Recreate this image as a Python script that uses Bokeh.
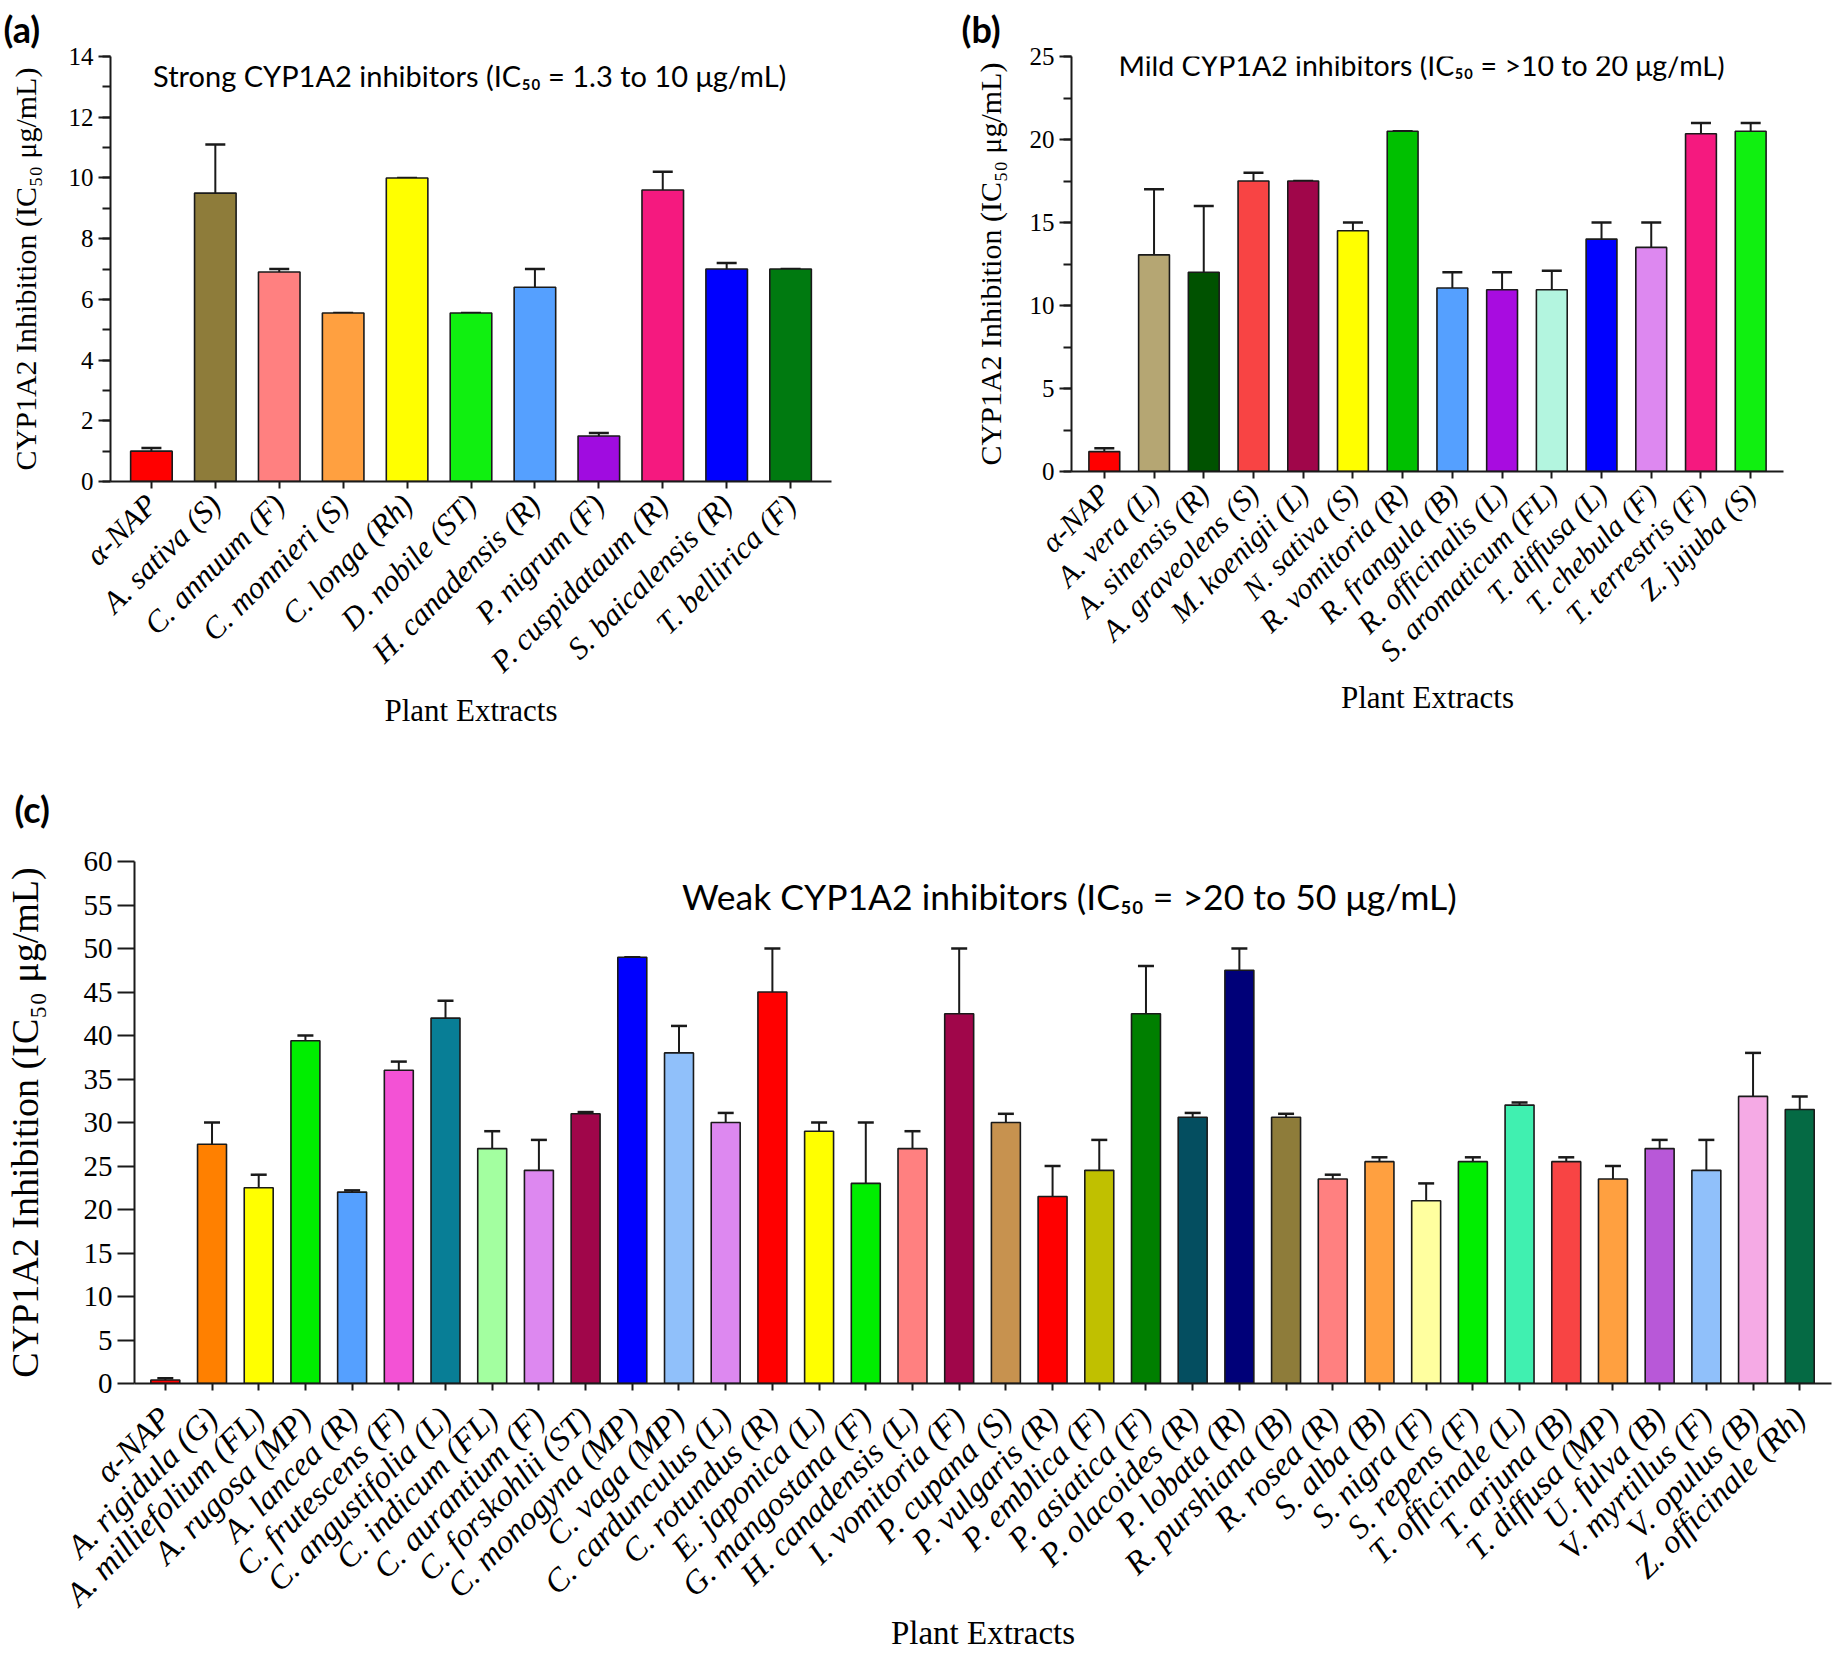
import math
from bokeh.plotting import figure
from bokeh.models import (ColumnDataSource, FixedTicker, SingleIntervalTicker,
                          Range1d, Label, Whisker, TeeHead)
from bokeh.layouts import column, row
from bokeh.embed import file_html
from bokeh.resources import INLINE

# ---------------- data ----------------
A_NAMES = ["α-NAP", "A. sativa (S)", "C. annuum (F)", "C. monnieri (S)", "C. longa (Rh)",
           "D. nobile (ST)", "H. canadensis (R)", "P. nigrum (F)", "P. cuspidataum (R)",
           "S. baicalensis (R)", "T. bellirica (F)"]
A_VALUES = [1.0, 9.5, 6.9, 5.55, 10.0, 5.55, 6.4, 1.5, 9.6, 7.0, 7.0]
A_ERRORS = [0.1, 1.6, 0.1, 0.0, 0.0, 0.0, 0.6, 0.1, 0.6, 0.2, 0.0]
A_COLORS = ["#FF0000", "#8E7C3A", "#FF8080", "#FFA040", "#FFFF00", "#10F010",
            "#55A0FF", "#A00CE0", "#F5197F", "#0000FF", "#007A10"]

B_NAMES = ["α-NAP", "A. vera (L)", "A. sinensis (R)", "A. graveolens (S)", "M. koenigii (L)",
           "N. sativa (S)", "R. vomitoria (R)", "R. frangula (B)", "R. officinalis (L)",
           "S. aromaticum (FL)", "T. diffusa (L)", "T. chebula (F)", "T. terrestris (F)",
           "Z. jujuba (S)"]
B_VALUES = [1.2, 13.05, 12.0, 17.5, 17.5, 14.5, 20.5, 11.05, 10.95, 10.95, 14.0, 13.5, 20.35, 20.5]
B_ERRORS = [0.2, 3.95, 4.0, 0.5, 0.0, 0.5, 0.0, 0.95, 1.05, 1.15, 1.0, 1.5, 0.65, 0.5]
B_COLORS = ["#FF0000", "#B5A673", "#005200", "#F84444", "#A0064A", "#FFFF00", "#00C000",
            "#55A0FF", "#A80CE0", "#B3F5DF", "#0000FF", "#DD88F0", "#F5197F", "#10F010"]

C_NAMES = ["α-NAP", "A. rigidula (G)", "A. milliefolium (FL)", "A. rugosa (MP)", "A. lancea (R)",
           "C. frutescens (F)", "C. angustifolia (L)", "C. indicum (FL)", "C. aurantium (F)",
           "C. forskohlii (ST)", "C. monogyna (MP)", "C. vaga (MP)", "C. cardunculus (L)",
           "C. rotundus (R)", "E. japonica (L)", "G. mangostana (F)", "H. canadensis (L)",
           "I. vomitoria (F)", "P. cupana (S)", "P. vulgaris (R)", "P. emblica (F)",
           "P. asiatica (F)", "P. olacoides (R)", "P. lobata (R)", "R. purshiana (B)",
           "R. rosea (R)", "S. alba (B)", "S. nigra (F)", "S. repens (F)", "T. officinale (L)",
           "T. arjuna (B)", "T. diffusa (MP)", "U. fulva (B)", "V. myrtillus (F)",
           "V. opulus (B)", "Z. officinale (Rh)"]
C_VALUES = [0.4, 27.5, 22.5, 39.4, 22.0, 36.0, 42.0, 27.0, 24.5, 31.0, 49.0, 38.0, 30.0, 45.0,
            29.0, 23.0, 27.0, 42.5, 30.0, 21.5, 24.5, 42.5, 30.6, 47.5, 30.6, 23.5, 25.5, 21.0,
            25.5, 32.0, 25.5, 23.5, 27.0, 24.5, 33.0, 31.5]
C_ERRORS = [0.2, 2.5, 1.5, 0.6, 0.2, 1.0, 2.0, 2.0, 3.5, 0.2, 0.0, 3.1, 1.1, 5.0, 1.0, 7.0,
            2.0, 7.5, 1.0, 3.5, 3.5, 5.5, 0.5, 2.5, 0.4, 0.5, 0.5, 2.0, 0.5, 0.3, 0.5, 1.5,
            1.0, 3.5, 5.0, 1.5]
C_COLORS = ["#FF0000", "#FF8000", "#FFFF00", "#00EE00", "#55A0FF", "#F352D5", "#087E96",
            "#A3FFA0", "#DD88F0", "#A0064A", "#0000FF", "#90C0FA", "#DD88F0", "#FF0000",
            "#FFFF00", "#00EE00", "#FF8080", "#A0064A", "#C7924F", "#FF0000", "#C0C000",
            "#007F00", "#044E60", "#000078", "#8E7C3A", "#FF8080", "#FFA040", "#FFFF9F",
            "#00EE00", "#40F0B0", "#F84444", "#FFA040", "#B858D8", "#90C0FA", "#F5AAE5",
            "#056A44"]

Y_LABEL = "CYP1A2 Inhibition (IC₅₀ μg/mL)"
X_LABEL = "Plant Extracts"
A_TITLE = "Strong CYP1A2 inhibitors (IC₅₀ = 1.3 to 10 μg/mL)"
B_TITLE = "Mild CYP1A2 inhibitors (IC₅₀ = >10 to 20 μg/mL)"
C_TITLE = "Weak CYP1A2 inhibitors (IC₅₀ = >20 to 50 μg/mL)"

SERIF = "Liberation Serif"
SANS = "Lato"
INK = "#1a1a1a"


def panel(names, vals, errs, colors, width, height, borders, xr, ymax, yint, yminor,
          bar_w, cap, fs, stand, title, title_xy, tag, tag_offset, tag_standoff):
    n = len(names)
    src = ColumnDataSource(dict(x=list(range(n)), top=vals,
                                up=[v + e for v, e in zip(vals, errs)], color=colors))
    p = figure(width=width, height=height, x_range=Range1d(*xr), y_range=Range1d(0, ymax),
               output_backend="svg", toolbar_location=None,
               min_border_left=borders[0], min_border_right=borders[1],
               min_border_top=borders[2], min_border_bottom=borders[3])
    p.outline_line_color = None
    p.grid.visible = False
    p.background_fill_color = "white"
    p.border_fill_color = "white"

    # panel tag as the figure title, pushed to the far left
    p.title.text = tag
    p.title.align = "left"
    p.title.vertical_align = "top"
    p.title.offset = tag_offset
    try:
        p.title.standoff = tag_standoff
    except AttributeError:
        pass
    p.title.text_font = SANS
    p.title.text_font_style = "bold"
    p.title.text_font_size = f"{fs['tag']}px"
    p.title.text_color = "black"

    wh = Whisker(source=src, base="x", lower="top", upper="up", dimension="height",
                 line_color=INK, line_width=2, lower_head=None,
                 upper_head=TeeHead(size=cap, line_color=INK, line_width=2.5),
                 level="underlay")
    p.add_layout(wh)
    p.vbar(x="x", top="top", width=bar_w, source=src, fill_color="color",
           line_color=INK, line_width=1.6)

    xa = p.xaxis[0]
    xa.ticker = FixedTicker(ticks=list(range(n)))
    xa.major_label_overrides = {i: nm for i, nm in enumerate(names)}
    xa.major_label_orientation = math.pi / 4
    xa.major_label_text_font = SERIF
    xa.major_label_text_font_style = "italic"
    xa.major_label_text_font_size = f"{fs['xt']}px"
    xa.major_label_text_color = "black"
    xa.major_label_standoff = stand[2]
    xa.minor_tick_line_color = None
    xa.major_tick_in = 0
    xa.major_tick_out = 7
    xa.major_tick_line_width = 2
    xa.major_tick_line_color = INK
    xa.axis_line_width = 2
    xa.axis_line_color = INK
    xa.axis_label = X_LABEL
    xa.axis_label_text_font = SERIF
    xa.axis_label_text_font_style = "normal"
    xa.axis_label_text_font_size = f"{fs['xl']}px"
    xa.axis_label_text_color = "black"
    xa.axis_label_standoff = stand[0]

    ya = p.yaxis[0]
    ya.ticker = SingleIntervalTicker(interval=yint, num_minor_ticks=yminor)
    ya.major_label_text_font = SERIF
    ya.major_label_text_font_size = f"{fs['yt']}px"
    ya.major_label_text_color = "black"
    ya.major_label_standoff = 5
    ya.major_tick_in = 0
    ya.major_tick_out = fs['tick']
    ya.major_tick_line_width = 2
    ya.major_tick_line_color = INK
    ya.minor_tick_in = 0
    ya.minor_tick_out = 8
    ya.minor_tick_line_width = 2
    ya.minor_tick_line_color = INK if yminor else None
    ya.axis_line_width = 2
    ya.axis_line_color = INK
    ya.axis_label = Y_LABEL
    ya.axis_label_text_font = SERIF
    ya.axis_label_text_font_style = "normal"
    ya.axis_label_text_font_size = f"{fs['yl']}px"
    ya.axis_label_text_color = "black"
    ya.axis_label_standoff = stand[1]

    p.add_layout(Label(x=title_xy[0], y=title_xy[1], text=title, text_font=SANS,
                       text_font_size=f"{fs['title']}px", text_align="center",
                       text_baseline="middle", text_color="black"))
    return p


H1 = 756
fa = panel(A_NAMES, A_VALUES, A_ERRORS, A_COLORS, 940, H1, (110, 109, 56, H1 - 481),
           (-0.64, 10.64), 14, 2, 2, 0.65, 20,
           dict(xt=31, xl=31, yt=25, yl=30, title=29, tag=36, tick=12), (-1, 24, 11),
           A_TITLE, (4.98, 13.36), "(a)", -107, 8)
fb = panel(B_NAMES, B_VALUES, B_ERRORS, B_COLORS, 896, H1 - 10, (131, 53, 55, H1 - 481),
           (-0.66, 13.66), 25, 5, 2, 0.62, 20,
           dict(xt=30, xl=31, yt=25, yl=30, title=28.5, tag=36, tick=12), (-2, 20, 10),
           B_TITLE, (6.38, 24.5), "(b)", -110, 8)
fc = panel(C_NAMES, C_VALUES, C_ERRORS, C_COLORS, 1836, 1654 - H1, (121, 5, 861 - H1, 270),
           (-0.66, 35.68), 60, 5, 0, 0.62, 16,
           dict(xt=33, xl=33, yt=29, yl=38, title=35.5, tag=36, tick=17), (-13, 35, 22),
           C_TITLE, (19.36, 56.0), "(c)", -120, 57)

layout = column(row(fa, fb), fc)
open("out.html", "w").write(file_html(layout, INLINE))
